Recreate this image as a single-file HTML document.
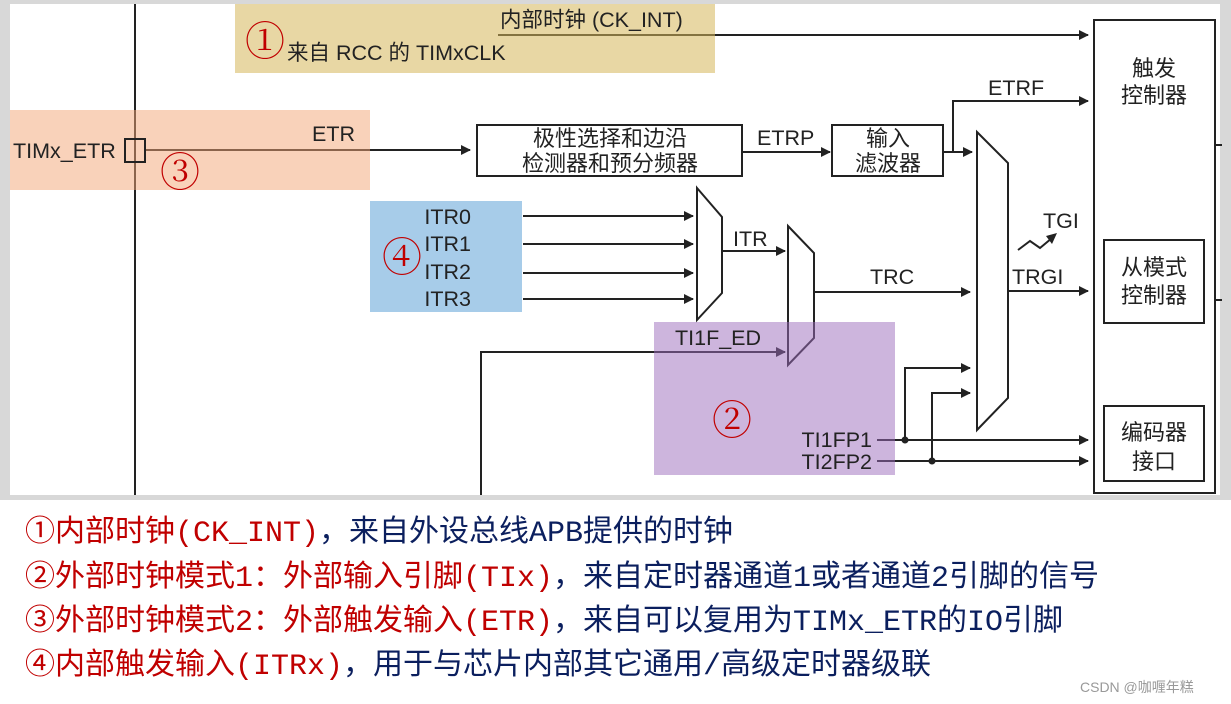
<!DOCTYPE html>
<html><head><meta charset="utf-8"><style>
body{margin:0;background:#fff;width:1231px;height:704px;overflow:hidden;position:relative}
svg{position:absolute;left:0;top:0}
.t{font-family:"Liberation Sans","Noto Sans CJK SC",sans-serif;font-size:21.5px;fill:#222}
.c{font-family:"Noto Sans CJK SC",sans-serif;font-size:22px;fill:#222}
.r{font-family:"Liberation Serif","Noto Serif CJK SC",serif;font-size:40px;fill:#c00000}
.b{position:absolute;left:25px;font-family:"Liberation Mono","Noto Sans CJK SC",monospace;font-size:30px;color:#0b1f5e;white-space:nowrap;line-height:1}
.b span{color:#c00000}
</style></head><body>
<svg width="1231" height="704" viewBox="0 0 1231 704">
<defs><marker id="a" markerWidth="10" markerHeight="10" refX="9" refY="5" orient="auto" markerUnits="userSpaceOnUse"><path d="M0,0 L10,5 L0,10 z" fill="#222"/></marker></defs>
<rect x="0" y="0" width="1231" height="500" fill="#d8d8d8"/>
<rect x="10" y="4" width="1210" height="491" fill="#fff"/>
<g stroke="#222" stroke-width="2" fill="none">
<line x1="135" y1="4" x2="135" y2="495"/>
<line x1="498" y1="35" x2="1088" y2="35" marker-end="url(#a)"/>
<line x1="145" y1="150" x2="470" y2="150" marker-end="url(#a)"/>
<rect x="477" y="125" width="265" height="51"/>
<line x1="742" y1="152" x2="830" y2="152" marker-end="url(#a)"/>
<rect x="832" y="125" width="111" height="51"/>
<line x1="943" y1="152" x2="972" y2="152" marker-end="url(#a)"/>
<polyline points="953,152 953,101 1088,101" marker-end="url(#a)"/>
<polygon points="977,132 1008,163 1008,398 977,430"/>
<rect x="1094" y="20" width="121" height="473"/>
<rect x="1104" y="240" width="100" height="83"/>
<rect x="1104" y="406" width="100" height="75"/>
<line x1="1215" y1="145" x2="1222" y2="145"/><line x1="1215" y1="300" x2="1222" y2="300"/>
<line x1="1008" y1="291" x2="1088" y2="291" marker-end="url(#a)"/>
<polyline points="1018,250 1030,241 1040,248 1052,238" />
<line x1="523" y1="216" x2="693" y2="216" marker-end="url(#a)"/>
<line x1="523" y1="244" x2="693" y2="244" marker-end="url(#a)"/>
<line x1="523" y1="273" x2="693" y2="273" marker-end="url(#a)"/>
<line x1="523" y1="299" x2="693" y2="299" marker-end="url(#a)"/>
<polygon points="697,188 722,217 722,293 697,320"/>
<line x1="722" y1="251" x2="785" y2="251" marker-end="url(#a)"/>
<polygon points="788,226 814,253 814,338 788,365"/>
<line x1="814" y1="292" x2="970" y2="292" marker-end="url(#a)"/>
<polyline points="481,495 481,352 785,352" marker-end="url(#a)"/>
<line x1="877" y1="440" x2="1088" y2="440" marker-end="url(#a)"/>
<line x1="877" y1="461" x2="1088" y2="461" marker-end="url(#a)"/>
<polyline points="905,440 905,368 970,368" marker-end="url(#a)"/>
<polyline points="932,461 932,393 970,393" marker-end="url(#a)"/>
</g>
<path d="M1046,236 L1057,233 L1052,244 z" fill="#222"/>
<circle cx="905" cy="440" r="3.5" fill="#222"/><circle cx="932" cy="461" r="3.5" fill="#222"/>
<rect x="235" y="4" width="480" height="69" fill="#d6b65a" fill-opacity="0.55"/>
<rect x="10" y="110" width="360" height="80" fill="#f4a575" fill-opacity="0.5"/>
<rect x="370" y="201" width="152" height="111" fill="#4f9ad3" fill-opacity="0.5"/>
<rect x="654" y="322" width="241" height="153" fill="#9b6cbc" fill-opacity="0.5"/>
<rect x="125" y="139" width="20" height="23" fill="none" stroke="#222" stroke-width="2"/>
<text class="t" x="500" y="27">内部时钟 (CK_INT)</text>
<text class="r" x="245" y="55">①</text>
<text class="t" x="287" y="60">来自 RCC 的 TIMxCLK</text>
<text class="t" x="13" y="158">TIMx_ETR</text>
<text class="t" x="312" y="141">ETR</text>
<text class="r" x="160" y="186">③</text>
<text class="c" x="610" y="146" text-anchor="middle">极性选择和边沿</text>
<text class="c" x="610" y="171" text-anchor="middle">检测器和预分频器</text>
<text class="t" x="757" y="145">ETRP</text>
<text class="c" x="888" y="146" text-anchor="middle">输入</text>
<text class="c" x="888" y="171" text-anchor="middle">滤波器</text>
<text class="t" x="988" y="95">ETRF</text>
<text class="c" x="1154" y="76" text-anchor="middle">触发</text>
<text class="c" x="1154" y="103" text-anchor="middle">控制器</text>
<text class="c" x="1154" y="275" text-anchor="middle">从模式</text>
<text class="c" x="1154" y="303" text-anchor="middle">控制器</text>
<text class="c" x="1154" y="440" text-anchor="middle">编码器</text>
<text class="c" x="1154" y="469" text-anchor="middle">接口</text>
<text class="t" x="1043" y="228">TGI</text>
<text class="t" x="1012" y="284">TRGI</text>
<text class="t" x="870" y="284">TRC</text>
<text class="t" x="733" y="246">ITR</text>
<text class="t" x="471" y="224" text-anchor="end">ITR0</text>
<text class="t" x="471" y="251" text-anchor="end">ITR1</text>
<text class="t" x="471" y="279" text-anchor="end">ITR2</text>
<text class="t" x="471" y="306" text-anchor="end">ITR3</text>
<text class="r" x="382" y="271">④</text>
<text class="t" x="675" y="345">TI1F_ED</text>
<text class="r" x="712" y="434">②</text>
<text class="t" x="872" y="447" text-anchor="end">TI1FP1</text>
<text class="t" x="872" y="469" text-anchor="end">TI2FP2</text>
<text x="1080" y="692" style="font-family:'Liberation Sans','Noto Sans CJK SC',sans-serif;font-size:14px;fill:#999">CSDN @咖喱年糕</text>
</svg>
<div class="b" style="top:519px"><span>①内部时钟(CK_INT)</span>，来自外设总线APB提供的时钟</div>
<div class="b" style="top:564px"><span>②外部时钟模式1：外部输入引脚(TIx)</span>，来自定时器通道1或者通道2引脚的信号</div>
<div class="b" style="top:608px"><span>③外部时钟模式2：外部触发输入(ETR)</span>，来自可以复用为TIMx_ETR的IO引脚</div>
<div class="b" style="top:652px"><span>④内部触发输入(ITRx)</span>，用于与芯片内部其它通用/高级定时器级联</div>
</body></html>
